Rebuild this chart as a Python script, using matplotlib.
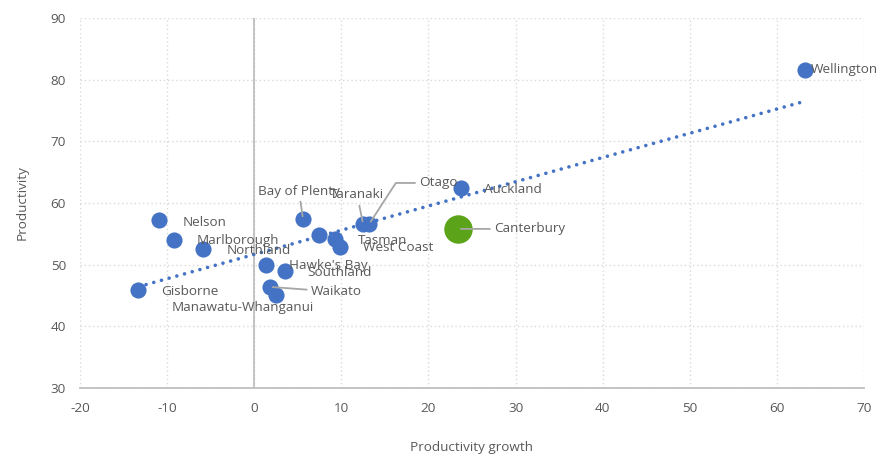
import numpy as np
import matplotlib.pyplot as plt

# Regionen: Produktivitaetswachstum (x) und Produktivitaet (y)
regions = ['Wellington', 'Auckland', 'Canterbury', 'Otago', 'Taranaki',
           'Bay of Plenty', 'Nelson', 'Marlborough', 'Northland', 'Tasman',
           'West Coast', "Hawke's Bay", 'Southland', 'Gisborne', 'Waikato',
           'Manawatu-Whanganui', '']
growth = [63.2, 23.7, 23.4, 13.2, 12.5, 5.6, -10.9, -9.2, -5.9, 9.3,
          9.9, 1.4, 3.5, -13.3, 1.8, 2.5, 7.4]
productivity = [81.6, 62.4, 55.8, 56.6, 56.6, 57.4, 57.2, 54.0, 52.5, 54.2,
                52.9, 50.0, 49.0, 45.9, 46.4, 45.1, 54.8]
highlight = 'Canterbury'

x = np.array(growth)
y = np.array(productivity)

# Label-Versatz in Pixeln (dx, dy) und Fuehrungslinien
offsets = {
    'Wellington': (6, 0), 'Auckland': (23, -1), 'Canterbury': (36, 0),
    'Otago': (50, 41), 'Taranaki': (-33, 29), 'Bay of Plenty': (-45, 28),
    'Nelson': (23, -2), 'Marlborough': (23, -1), 'Northland': (24, -1),
    'Tasman': (23, -2), 'West Coast': (23, -1), "Hawke's Bay": (23, -1),
    'Southland': (23, -2), 'Gisborne': (23, -2), 'Waikato': (41, -5),
    'Manawatu-Whanganui': (-104, -13),
}
leaders = {
    'Canterbury': 'arc3', 'Otago': 'angle,angleA=0,angleB=57,rad=0',
    'Taranaki': 'arc3', 'Bay of Plenty': 'arc3', 'Waikato': 'arc3',
}

blue = '#4472C4'
green = '#5BA318'
grey = '#595959'

plt.rcParams['font.family'] = ['Open Sans', 'DejaVu Sans']
plt.rcParams['axes.unicode_minus'] = False

fig = plt.figure(figsize=(8.81, 4.57), dpi=100)
ax = fig.add_axes([80/881, 1 - 388/457, 784/881, 370/457])

# Trendlinie (lineare Regression)
k, d = np.polyfit(x, y, 1)
xt = np.array([x.min(), x.max()])
ax.plot(xt, k*xt + d, color=blue, linewidth=2.6,
        linestyle=(0, (0.01, 2.2)), dash_capstyle='round', zorder=2)

for name, xi, yi in zip(regions, x, y):
    if name == highlight:
        ax.scatter(xi, yi, s=420, color=green, zorder=4, linewidths=0)
    else:
        ax.scatter(xi, yi, s=135, color=blue, zorder=3, linewidths=0)
    if name in offsets:
        dx, dy = offsets[name]
        arrow = None
        if name in leaders:
            arrow = dict(arrowstyle='-', color='#A6A6A6', lw=1.3,
                         shrinkA=1, shrinkB=2, connectionstyle=leaders[name])
        ax.annotate(name, (xi, yi), xytext=(dx, dy), textcoords='offset pixels',
                    ha='left', va='center', fontsize=9.7, color=grey,
                    arrowprops=arrow, zorder=5)

ax.axvline(0, color='#BFBFBF', linewidth=1.3, zorder=1)

ax.set_xlim(-20, 70)
ax.set_ylim(30, 90)
ax.set_xticks(np.arange(-20, 71, 10))
ax.set_yticks(np.arange(30, 91, 10))
ax.grid(True, color='#D9D9D9', linestyle=(0, (1, 2)), linewidth=1)
ax.set_axisbelow(True)
for s in ['top', 'right', 'left']:
    ax.spines[s].set_visible(False)
ax.spines['bottom'].set_color('#BFBFBF')
ax.spines['bottom'].set_linewidth(1.3)
ax.tick_params(length=0, labelsize=9.7, labelcolor=grey, pad=10)
ax.set_xlabel('Productivity growth', fontsize=9.7, color=grey, labelpad=19)
ax.set_ylabel('Productivity', fontsize=9.7, color=grey, labelpad=16)

fig.savefig('out.png', dpi=100)
